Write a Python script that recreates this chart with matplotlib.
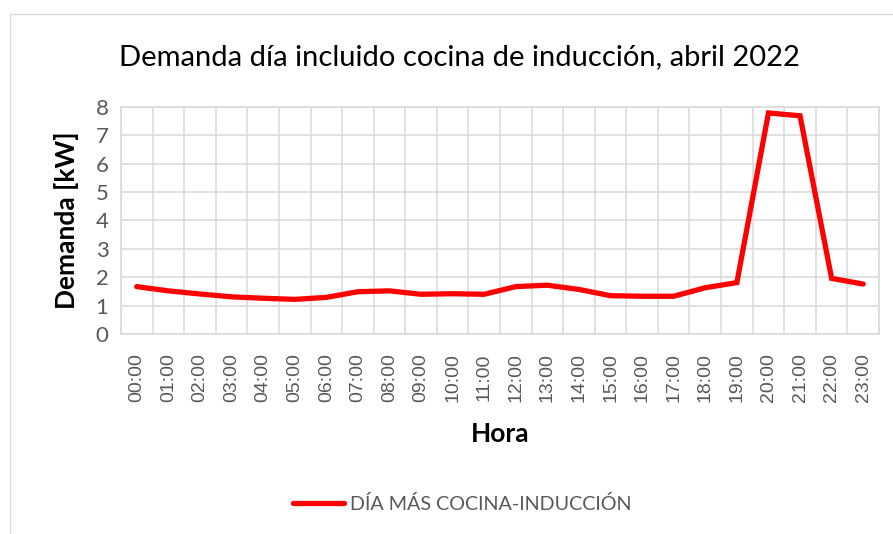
import matplotlib
matplotlib.use("Agg")
import matplotlib.pyplot as plt
from matplotlib.patches import Rectangle
import numpy as np

# Demanda horaria del día con cocina de inducción (kW)
horas = [f"{h:02d}:00" for h in range(24)]
demanda = [1.67, 1.52, 1.41, 1.31, 1.26, 1.22, 1.29, 1.49, 1.52, 1.40, 1.42, 1.40,
           1.67, 1.72, 1.57, 1.35, 1.33, 1.33, 1.63, 1.81, 7.79, 7.69, 1.96, 1.76]
serie = "DÍA MÁS COCINA-INDUCCIÓN"

GRID = "#D9D9D9"
TXT = "#595959"

fig = plt.figure(figsize=(8.93, 5.34), dpi=100)
ax = fig.add_axes([121 / 893, 1 - 334 / 534, (879 - 121) / 893, (334 - 107) / 534])

# marco exterior del gráfico
fig.patches.append(Rectangle((10 / 893, -0.1), 1.2, 1 - 14 / 534 + 0.1,
                             transform=fig.transFigure, fill=False,
                             edgecolor=GRID, linewidth=0.9))

x = np.arange(len(horas))
ax.plot(x, demanda, color="#FF0000", linewidth=3.8, solid_capstyle="round",
        solid_joinstyle="miter", label=serie, zorder=3)

ax.set_xlim(-0.5, len(horas) - 0.5)
ax.set_ylim(0, 8)
ax.set_yticks(range(0, 9))

# cuadrícula vertical entre categorías
ax.set_xticks(np.arange(-0.5, len(horas), 1), minor=True)
ax.set_xticks(x)
ax.set_xticklabels(horas, rotation=90, fontsize=14, color=TXT,
                   family="Liberation Sans")
ax.tick_params(axis="x", which="both", length=0, pad=14)
ax.tick_params(axis="y", length=0, pad=9, labelsize=16, labelcolor=TXT)
for lab in ax.get_yticklabels():
    lab.set_family("Lato")
ax.grid(True, axis="y", color=GRID, linewidth=1.1)
ax.grid(True, axis="x", which="minor", color=GRID, linewidth=1.1)
for s in ax.spines.values():
    s.set_color(GRID)
    s.set_linewidth(1.1)

ax.set_xlabel("Hora", fontsize=19, fontweight="bold", family="Lato", labelpad=14)
ax.set_ylabel("Demanda [kW]", fontsize=19, fontweight="bold", family="Lato",
              labelpad=12)

fig.text(459 / 893, 1 - 57 / 534, "Demanda día incluido cocina de inducción, abril 2022",
         ha="center", va="center", fontsize=21, family="Lato")

fig.legend(loc="center", bbox_to_anchor=(462 / 893, 1 - 504 / 534), frameon=False,
           prop={"family": "Lato", "size": 14.2}, labelcolor=TXT,
           handlelength=2.6, handletextpad=0.3)

fig.savefig("out.png", dpi=100)
